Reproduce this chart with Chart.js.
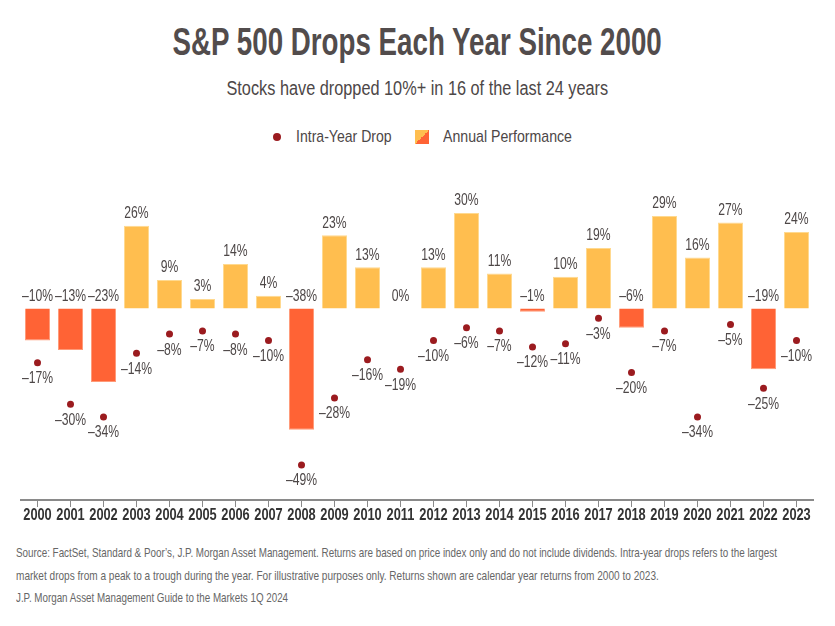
<!DOCTYPE html>
<html>
<head>
<meta charset="utf-8">
<script src="https://cdn.jsdelivr.net/npm/chart.js@4.4.1/dist/chart.umd.min.js"></script>
<style>
  body { margin: 0; width: 835px; height: 626px; background: #fff; position: relative; overflow: hidden;
         font-family: "Liberation Sans", Arial, sans-serif; color: #4d4747; }
  .row { position: absolute; left: 0; width: 835px; text-align: center; white-space: nowrap; }
  .fit { display: inline-block; transform-origin: center; }
  .lfit { position: absolute; white-space: nowrap; transform-origin: left center; }
  #title { top: 20px; font-size: 38px; font-weight: bold; line-height: 44px; color: #524c4c; }
  #sub { top: 76px; font-size: 20px; line-height: 24px; color: #4d4747; }
  .leg { top: 127px; font-size: 17px; line-height: 20px; color: #4d4747; }
  .foot { left: 16px; font-size: 13px; line-height: 16px; color: #666; }
  #wrap { position: absolute; left: 0; top: 150px; width: 835px; height: 380px; }
</style>
</head>
<body>
<div class="row" id="title"><span class="fit" data-w="489">S&amp;P 500 Drops Each Year Since 2000</span></div>
<div class="row" id="sub"><span class="fit" data-w="382">Stocks have dropped 10%+ in 16 of the last 24 years</span></div>

<div style="position:absolute;left:273px;top:133px;width:8px;height:8px;border-radius:50%;background:#9b1b1f"></div>
<div class="lfit leg" style="left:296px" data-w="96">Intra-Year Drop</div>
<div style="position:absolute;left:415px;top:130px;width:14px;height:14px;background:linear-gradient(to bottom right,#ffbe4f 50%,#ff6335 50%)"></div>
<div class="lfit leg" style="left:443px" data-w="129">Annual Performance</div>

<div id="wrap"><canvas id="chart"></canvas></div>

<div class="lfit foot" style="top:545px" data-w="761">Source: FactSet, Standard &amp; Poor’s, J.P. Morgan Asset Management. Returns are based on price index only and do not include dividends. Intra-year drops refers to the largest</div>
<div class="lfit foot" style="top:568px" data-w="643">market drops from a peak to a trough during the year. For illustrative purposes only. Returns shown are calendar year returns from 2000 to 2023.</div>
<div class="lfit foot" style="top:590px" data-w="272">J.P. Morgan Asset Management Guide to the Markets 1Q 2024</div>

<script>
const years = ['2000','2001','2002','2003','2004','2005','2006','2007','2008','2009','2010','2011',
               '2012','2013','2014','2015','2016','2017','2018','2019','2020','2021','2022','2023'];
const annualReturn = [-10, -13, -23, 26, 9, 3, 14, 4, -38, 23, 13, 0, 13, 30, 11, -1, 10, 19, -6, 29, 16, 27, -19, 24];
const intraYearDrop = [-17, -30, -34, -14, -8, -7, -8, -10, -49, -28, -16, -19, -10, -6, -7, -12, -11, -3, -20, -7, -34, -5, -25, -10];

const POS = '#ffbe4f', NEG = '#ff6335', DOT = '#9b1b1f';

// squeeze html text to the condensed widths of the original
document.querySelectorAll('[data-w]').forEach(el => {
    el.style.transform = 'scaleX(' + (el.dataset.w / el.offsetWidth) + ')';
});

const pct = v => (v < 0 ? '\u2013' + (-v) : v) + '%';

function txt(ctx, s, x, y, base, font, color, sx) {
    ctx.save();
    ctx.translate(x, y); ctx.scale(sx, 1);
    ctx.font = font; ctx.fillStyle = color;
    ctx.textAlign = 'center'; ctx.textBaseline = base;
    ctx.fillText(s, 0, 0);
    ctx.restore();
}

const labelPlugin = {
    id: 'labels',
    afterDraw(chart) {
        const ctx = chart.ctx, x = chart.scales.x, y = chart.scales.y;
        const valFont = '16px "Liberation Sans", Arial, sans-serif';
        annualReturn.forEach((v, i) => {
            txt(ctx, pct(v), x.getPixelForValue(i), y.getPixelForValue(Math.max(v, 0)) - 4, 'bottom', valFont, '#4d4747', 0.76);
        });
        intraYearDrop.forEach((v, i) => {
            txt(ctx, pct(v), x.getPixelForValue(i), y.getPixelForValue(v) + 8, 'top', valFont, '#4d4747', 0.76);
        });
        years.forEach((yr, i) => {
            txt(ctx, yr, x.getPixelForValue(i), chart.chartArea.bottom + 8, 'top', 'bold 16px "Liberation Sans", Arial, sans-serif', '#333', 0.8);
        });
    }
};

new Chart(document.getElementById('chart'), {
    type: 'bar',
    data: {
        labels: years,
        datasets: [
            {
                type: 'line', data: intraYearDrop, showLine: false,
                pointRadius: 3.5, pointBackgroundColor: DOT, pointBorderWidth: 0, order: 0
            },
            {
                data: annualReturn,
                backgroundColor: annualReturn.map(v => v < 0 ? NEG : POS),
                borderColor: annualReturn.map(v => v < 0 ? '#ff9a78' : '#ffd98f'),
                borderWidth: 1, barPercentage: 0.76, categoryPercentage: 1, order: 1
            }
        ]
    },
    options: {
        responsive: true, maintainAspectRatio: false, animation: false,
        layout: { padding: { left: 21, right: 22, top: 31, bottom: 23 } },
        plugins: { legend: { display: false }, tooltip: { enabled: false } },
        scales: {
            x: {
                offset: true,
                grid: { offset: false, drawOnChartArea: false, tickLength: 7, color: '#8a8a8a' },
                border: { color: '#8a8a8a', width: 2 },
                ticks: { display: false }
            },
            y: { display: false, min: -60, max: 40 }
        }
    },
    plugins: [labelPlugin]
});
</script>
</body>
</html>
